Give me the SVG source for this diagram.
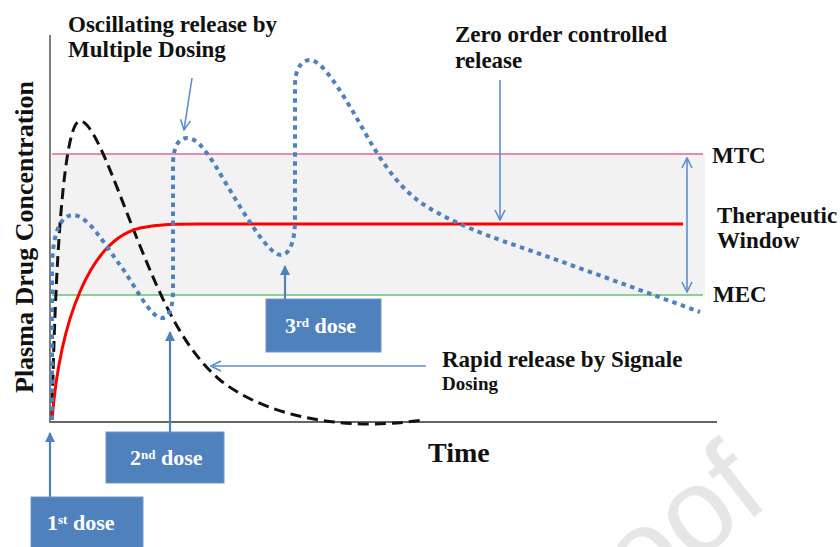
<svg xmlns="http://www.w3.org/2000/svg" width="840" height="547" viewBox="0 0 840 547">
<style>
.lbl{font-family:"Liberation Serif","Times New Roman",serif;font-weight:bold;fill:#111}
.box{fill:#4F81BD;stroke:#7096CB;stroke-width:1}
.boxt{font-family:"Liberation Serif","Times New Roman",serif;font-weight:bold;fill:#fff;font-size:22px}
.thin{stroke:#5F8DCB;stroke-width:1.6;fill:none}
.dose{stroke:#4F81BD;stroke-width:2.2;fill:none}
</style>
<defs>
<marker id="vee" viewBox="0 0 12 12" refX="11" refY="6" markerWidth="12" markerHeight="12" markerUnits="userSpaceOnUse" orient="auto-start-reverse">
<path d="M1,1 L11,6 L1,11" fill="none" stroke="#5F8DCB" stroke-width="1.6"/>
</marker>
<marker id="tri" viewBox="0 0 10 10" refX="9" refY="5" markerWidth="10" markerHeight="10" markerUnits="userSpaceOnUse" orient="auto">
<path d="M0,0 L10,5 L0,10 Z" fill="#4F81BD"/>
</marker>
</defs>
<text x="0" y="0" transform="translate(772,503) rotate(-38)" font-family="Liberation Sans,Arial,sans-serif" font-size="120" fill="#e6e6e6" text-anchor="end">oof</text>
<g id="window">
<rect x="52" y="154" width="653" height="141" fill="#F2F2F2"/>
<line x1="52" y1="154" x2="703" y2="154" stroke="#E8609E" stroke-width="1.6"/>
<line x1="52" y1="295" x2="703" y2="295" stroke="#6CC070" stroke-width="1.6"/>
</g>
<g id="axes">
<line x1="50" y1="35" x2="50" y2="423" stroke="#7f7f7f" stroke-width="2"/>
<line x1="50" y1="422" x2="717" y2="422" stroke="#666" stroke-width="2"/>
<text class="lbl" font-size="26" transform="translate(33,393) rotate(-90)">Plasma Drug Concentration</text>
<text class="lbl" x="428" y="462" font-size="28">Time</text>
</g>
<g id="curves">
<path id="single" d="M52,420 C55,260 64,121 80,121 C96,121 120,200 150,270 C165,305 185,350 220,380 C255,408 310,424 370,424 C395,424 415,421 425,420" fill="none" stroke="#111" stroke-width="3" stroke-dasharray="11 6"/>
<path id="zero" d="M52,420 C60,320 90,240 140,228 C160,224 175,224 200,224 L683,224" fill="none" stroke="#FF0000" stroke-width="3"/>
<path id="multi" d="M52,420 L52,270 C52,235 60,215 73,215 C88,215 105,245 120,265 C135,285 150,318 162,318 C168,318 173,310 173,290 L173,165 C173,148 178,138 187,138 C197,138 205,150 215,165 C230,190 250,225 265,243 C272,251 276,255 281,255 C290,255 295,240 295,220 L295,85 C295,70 301,60 310,60 C322,60 340,90 355,115 C372,145 390,180 420,202 C440,216 470,230 520,247 C580,268 640,290 700,312" fill="none" stroke="#4F81BD" stroke-width="4" stroke-dasharray="4.5 4.5"/>
</g>
<g id="connectors">
<line class="thin" x1="192" y1="78" x2="184" y2="130" marker-end="url(#vee)"/>
<line class="thin" x1="500" y1="80" x2="500" y2="220" marker-end="url(#vee)"/>
<line class="thin" x1="426" y1="366" x2="211" y2="366" marker-end="url(#vee)"/>
<line class="thin" x1="687" y1="158" x2="687" y2="292" marker-start="url(#vee)" marker-end="url(#vee)"/>
<line class="dose" x1="50" y1="497" x2="50" y2="433" marker-end="url(#tri)"/>
<line class="dose" x1="170" y1="432" x2="170" y2="332" marker-end="url(#tri)"/>
<line class="dose" x1="285" y1="299" x2="285" y2="266" marker-end="url(#tri)"/>
</g>
<g id="label-osc">
<text class="lbl" font-size="23" x="68" y="32">Oscillating release by</text>
<text class="lbl" font-size="23" x="68" y="57">Multiple Dosing</text>
</g>
<g id="label-zero">
<text class="lbl" font-size="23" x="455" y="42">Zero order controlled</text>
<text class="lbl" font-size="23" x="455" y="68">release</text>
</g>
<g id="label-mtc"><text class="lbl" font-size="23" x="712" y="163">MTC</text></g>
<g id="label-window">
<text class="lbl" font-size="23" x="717" y="223">Therapeutic</text>
<text class="lbl" font-size="23" x="717" y="248">Window</text>
</g>
<g id="label-mec"><text class="lbl" font-size="23" x="713" y="302">MEC</text></g>
<g id="label-rapid">
<text class="lbl" font-size="23" x="442" y="367">Rapid release by Signale</text>
<text class="lbl" font-size="19" x="442" y="390">Dosing</text>
</g>
<g id="dose3">
<rect class="box" x="266" y="299" width="115" height="53"/>
<text class="boxt" x="285" y="333">3<tspan font-size="13" dy="-6">rd</tspan><tspan dy="6"> dose</tspan></text>
</g>
<g id="dose2">
<rect class="box" x="106" y="432" width="118" height="51"/>
<text class="boxt" x="130" y="465">2<tspan font-size="13" dy="-6">nd</tspan><tspan dy="6"> dose</tspan></text>
</g>
<g id="dose1">
<rect class="box" x="31" y="497" width="112" height="52"/>
<text class="boxt" x="47" y="530">1<tspan font-size="13" dy="-6">st</tspan><tspan dy="6"> dose</tspan></text>
</g>
</svg>
